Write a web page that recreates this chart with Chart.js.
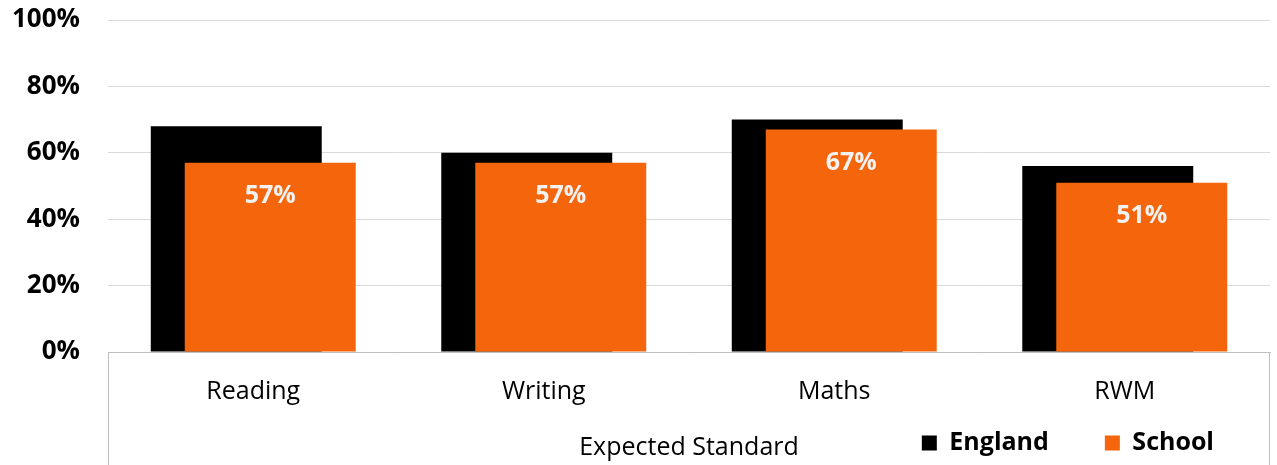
<!DOCTYPE html>
<html>
<head>
<meta charset="utf-8">
<script src="https://cdn.jsdelivr.net/npm/chart.js@4/dist/chart.umd.min.js"></script>
<style>
html,body{margin:0;padding:0;background:#fff;overflow:hidden;}
#wrap{width:1277px;height:465px;}
</style>
</head>
<body>
<div id="wrap"><canvas id="c" width="1277" height="465"></canvas></div>
<script>
const categories = ['Reading', 'Writing', 'Maths', 'RWM'];
const englandValues = [68, 60, 70, 56];
const schoolValues = [57, 57, 67, 51];
const yTicks = [0, 20, 40, 60, 80, 100];
const xTitle = 'Expected Standard';
const seriesNames = ['England', 'School'];

const FONT = "'Open Sans', 'Noto Sans', sans-serif";

// Draw the School bars on top of the England bars, then their value labels.
const overlayBars = {
  id: 'overlayBars',
  beforeDatasetDraw(chart, args) {
    if (args.index === 1) return false;
  },
  afterDatasetsDraw(chart) {
    const meta = chart.getDatasetMeta(1);
    meta.controller.draw();
    const ctx = chart.ctx;
    ctx.save();
    ctx.font = "bold 25px " + FONT;
    ctx.fillStyle = '#f2f2f2';
    ctx.textAlign = 'center';
    ctx.textBaseline = 'middle';
    meta.data.forEach((bar, i) => {
      ctx.fillText(schoolValues[i] + '%', bar.x, bar.y + 33);
    });
    ctx.restore();
  }
};

// Legend sits on the same line as the axis title.
const legendLine = {
  id: 'legendLine',
  afterLayout(chart) {
    const lg = chart.legend;
    if (!lg) return;
    lg.top = 374.5;
    lg.bottom = chart.height;
    lg.height = lg.bottom - lg.top;
  }
};

const boxAndTitle = {
  id: 'boxAndTitle',
  afterDraw(chart) {
    const ctx = chart.ctx;
    const a = chart.chartArea;
    ctx.save();
    ctx.strokeStyle = '#bfbfbf';
    ctx.lineWidth = 1;
    ctx.beginPath();
    ctx.moveTo(a.left + 0.5, a.bottom);
    ctx.lineTo(a.left + 0.5, chart.height);
    ctx.moveTo(a.right - 0.5, a.bottom);
    ctx.lineTo(a.right - 0.5, chart.height);
    ctx.stroke();
    ctx.font = "25px " + FONT;
    ctx.fillStyle = '#000';
    ctx.textAlign = 'center';
    ctx.textBaseline = 'middle';
    ctx.fillText(xTitle, (a.left + a.right) / 2, 448);
    ctx.restore();
  }
};

new Chart(document.getElementById('c'), {
  type: 'bar',
  data: {
    labels: categories,
    datasets: [
      { label: seriesNames[0], data: englandValues, backgroundColor: '#000000', borderWidth: 0 },
      { label: seriesNames[1], data: schoolValues, backgroundColor: '#F5650B', borderWidth: 0 }
    ]
  },
  options: {
    responsive: false,
    animation: false,
    devicePixelRatio: 1,
    layout: { padding: { top: 20, right: 7, left: 0, bottom: 0 } },
    datasets: { bar: { categoryPercentage: 0.234, barPercentage: 5.03 } },
    scales: {
      x: {
        afterFit(scale) { scale.height = 70; },
        grid: { display: false, drawTicks: false },
        border: { display: true, color: '#bfbfbf', width: 1 },
        ticks: { color: '#000', font: { family: FONT, size: 25 }, padding: 25 }
      },
      y: {
        min: 0, max: 100,
        afterFit(scale) { scale.width = 108; scale.paddingTop = 0; scale.paddingBottom = 0; },
        afterBuildTicks(axis) { axis.ticks = yTicks.map(v => ({ value: v })); },
        grid: { color: '#d9d9d9', drawTicks: false },
        border: { display: false },
        ticks: {
          color: '#000', padding: 28,
          font: { family: FONT, size: 26, weight: 'bold' },
          callback: v => v + '%'
        }
      }
    },
    plugins: {
      tooltip: { enabled: false },
      legend: {
        position: 'bottom',
        align: 'end',
        fullSize: false,
        maxHeight: 43,
        labels: {
          color: '#000',
          font: { family: FONT, size: 25, weight: 'bold' },
          boxWidth: 15, boxHeight: 15, padding: 56
        }
      }
    }
  },
  plugins: [overlayBars, legendLine, boxAndTitle]
});
</script>
</body>
</html>
